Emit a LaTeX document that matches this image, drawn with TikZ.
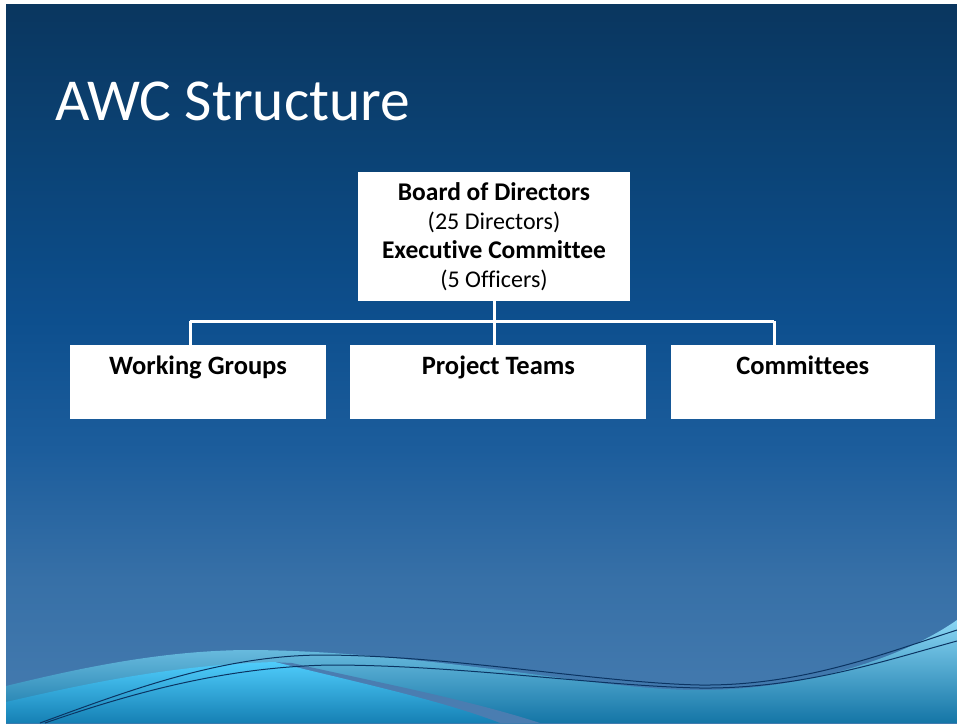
\documentclass[tikz,border=0pt]{standalone}
\usepackage{fontspec}
\setmainfont{Carlito}[Ligatures=CommonOff]
\usetikzlibrary{positioning,calc}
\definecolor{slideA}{HTML}{0A365F}
\definecolor{slideB}{HTML}{0B4274}
\definecolor{slideC}{HTML}{0D4F8E}
\definecolor{slideD}{HTML}{1C5D9C}
\definecolor{slideE}{HTML}{3770A7}
\definecolor{slideF}{HTML}{467CB0}
\definecolor{paletop}{HTML}{8AD6F4}
\definecolor{palemid}{HTML}{62AED6}
\definecolor{palebot}{HTML}{1475A6}
\definecolor{brighttop}{HTML}{4FCCFB}
\definecolor{brightbot}{HTML}{1580B4}
\definecolor{stripeblue}{HTML}{4A7DB1}
\definecolor{waveline}{HTML}{0B3462}
\pgfdeclareverticalshading{slidebg}{100bp}{color(0bp)=(slideF); color(25bp)=(slideF);
 color(35bp)=(slideE); color(44bp)=(slideD); color(53bp)=(slideC);
 color(65bp)=(slideB); color(75bp)=(slideA); color(100bp)=(slideA)}
\newcommand{\headline}[1]{{\fontsize{25.5}{29}\selectfont\bfseries #1}}

\begin{document}
\begin{tikzpicture}[x=1pt,y=-1pt,node distance=24pt,
 topbox/.style={fill=white,align=center,inner sep=0pt,minimum width=272pt,minimum height=129pt,font=\fontsize{24}{29}\selectfont},
 unitbox/.style={fill=white,inner sep=0pt,minimum height=74pt,text height=10pt,text depth=26pt,font=\fontsize{26.5}{29}\selectfont\bfseries},
 link/.style={draw=white,line width=3pt},
 wave/.style={draw=waveline,line width=1pt}]
\useasboundingbox (0,0) rectangle (957,723);
\fill[white] (0,0) rectangle (957,723);
\begin{scope}
\clip (6,4) rectangle (957,723);
\shade[shading=slidebg] (6,4) rectangle (957,723);
% bottom waves
\shade[top color=paletop,middle color=palemid,bottom color=palebot]
 (6,686) .. controls (80,668) and (160,651) .. (245,650)
 .. controls (330,650) and (420,660) .. (500,670)
 .. controls (580,680) and (640,690) .. (700,690)
 .. controls (800,690) and (900,660) .. (957,620)
 -- (957,723) -- (6,723) -- cycle;
\fill[stripeblue] (270,662) -- (292,663) .. controls (380,683) and (470,700) .. (540,723)
 -- (495,723) -- cycle;
\shade[top color=brighttop,bottom color=brightbot]
 (6,702) .. controls (80,685) and (170,665) .. (275,662)
 .. controls (360,683) and (440,700) .. (500,723) -- (6,723) -- cycle;
\draw[wave] (40,723) .. controls (130,690) and (220,656) .. (320,655)
 .. controls (450,655) and (600,683) .. (700,685)
 .. controls (800,686) and (880,655) .. (957,630);
\draw[wave] (45,723) .. controls (140,690) and (230,667) .. (330,665)
 .. controls (460,665) and (600,686) .. (700,688)
 .. controls (800,689) and (880,662) .. (957,641);
\end{scope}

\node[anchor=base west,inner sep=0pt,text=white,font=\fontsize{59.5}{70}\selectfont] (title) at (55,120) {AWC Structure};

\node[topbox] (board) at (494,236.5) {\headline{Board of Directors}\\(25 Directors)\\\headline{Executive Committee}\\(5 Officers)};
\node[unitbox,minimum width=256pt] (groups) at (198,382) {Working Groups};
\node[unitbox,minimum width=296pt,right=of groups] (teams) {Project Teams};
\node[unitbox,minimum width=264pt,right=of teams] (committees) {Committees};

\coordinate (busleft) at (190,321);
\coordinate (busright) at (774,321);
\draw[link] (board.south) -- (board.south |- teams.north);
\draw[link] (busleft) -- (busright);
\draw[link] (busleft) -- (busleft |- groups.north);
\draw[link] (busright) -- (busright |- committees.north);
\end{tikzpicture}
\end{document}
